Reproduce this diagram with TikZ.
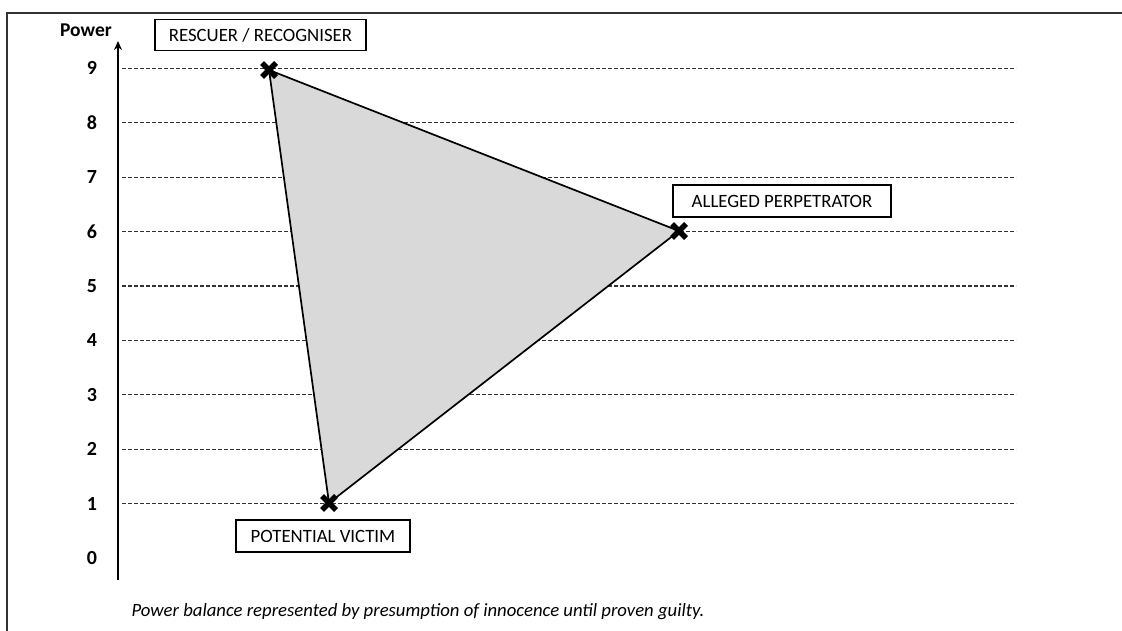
\documentclass[tikz,border=0pt]{standalone}
\usepackage{fontspec}
\setmainfont{Carlito}
\usetikzlibrary{arrows.meta}
\begin{document}
\begin{tikzpicture}[x=1pt,y=-1pt,
  labelbox/.style={draw, line width=1.2pt, fill=white, inner sep=0pt,
    font=\fontsize{18.8}{20}\selectfont},
  ticklabel/.style={font=\bfseries\fontsize{20}{22}\selectfont},
  gridline/.style={dash pattern=on 4pt off 2pt, line width=1.1pt, black!80},
  xmark/.style={line width=5.5pt},
  edge/.style={line width=1.7pt, black}
]
\useasboundingbox (0,0) rectangle (1122,631);
% frame (top and left edges)
\coordinate (fr) at (1122,13);
\coordinate (fc) at (7,13);
\coordinate (fb) at (7,631);
\draw[line width=1.5pt, black!80] (fr) -- (fc) -- (fb);

% power levels
\foreach \v in {1,...,9} {
  \coordinate (gl\v) at (122,{558-54.4*\v});
  \coordinate (gr\v) at (1016,{558-54.4*\v});
  \draw[gridline] (gl\v) -- (gr\v);
}
\foreach \v in {0,...,9} {
  \node[ticklabel] (t\v) at (92,{558-54.4*\v}) {\v};
}

% vertical axis
\coordinate (axb) at (118,580);
\coordinate (axt) at (118,41);
\draw[line width=2.8pt, -{Stealth[length=9pt,width=8pt]}] (axb) -- (axt);
\node[font=\bfseries\fontsize{19.5}{21}\selectfont] (power) at (86,30) {Power};

% triangle
\coordinate (R) at (269,70);
\coordinate (A) at (679,231);
\coordinate (V) at (329,503);
\fill[black!15] (R) -- (A) -- (V) -- cycle;
\draw[edge, line join=round] (R) -- (A) -- (V) -- cycle;

% markers
\foreach \p in {R,A,V} {
  \draw[xmark] ([shift={(-7,-7)}]\p) -- ([shift={(7,7)}]\p);
  \draw[xmark] ([shift={(-7,7)}]\p) -- ([shift={(7,-7)}]\p);
}

% role labels
\node[labelbox, minimum width=211pt, minimum height=31pt] (rescuer) at (260.5,35) {RESCUER / RECOGNISER};
\node[labelbox, minimum width=218pt, minimum height=32pt] (perp) at (782,201) {ALLEGED PERPETRATOR};
\node[labelbox, minimum width=174pt, minimum height=32pt] (victim) at (323,536) {POTENTIAL VICTIM};

% caption
\node[anchor=west, font=\itshape\fontsize{18.7}{20}\selectfont] (caption) at (128,612)
  {Power balance represented by presumption of innocence until proven guilty.};
\end{tikzpicture}
\end{document}
